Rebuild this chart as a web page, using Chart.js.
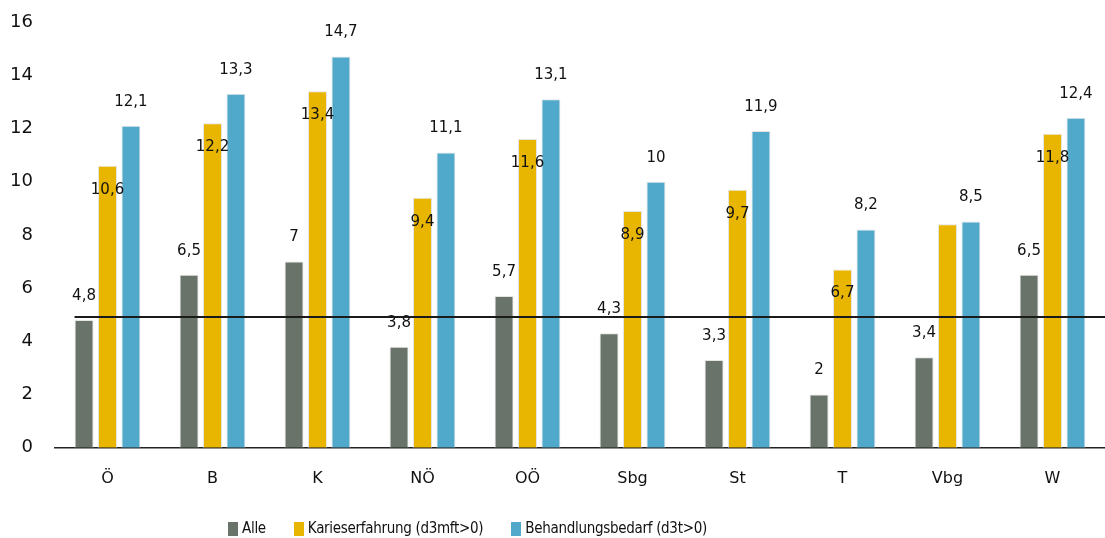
<!DOCTYPE html>
<html>
<head>
<meta charset="utf-8">
<script src="https://cdn.jsdelivr.net/npm/chart.js@4.4.1/dist/chart.umd.min.js"></script>
<style>
  html, body { margin: 0; padding: 0; background: #fff; }
  #wrap { position: relative; width: 1105px; height: 538px; }
  #legend {
    position: absolute; left: 228px; top: 519px;
    display: flex; align-items: flex-end;
    font-family: "DejaVu Sans Condensed", "DejaVu Sans", sans-serif;
    font-size: 15px; letter-spacing: -0.3px; color: #111;
  }
  .item { display: flex; align-items: flex-end; margin-right: 28px; }
  .box { width: 10px; height: 14px; margin-right: 4px; margin-bottom: 1px; }
</style>
</head>
<body>
<div id="wrap">
  <canvas id="c" width="1105" height="538"></canvas>
  <div id="legend"></div>
</div>
<script>
// Bundesländer (Kariesstatistik), values
const categories = ['Ö', 'B', 'K', 'NÖ', 'OÖ', 'Sbg', 'St', 'T', 'Vbg', 'W'];
const alle = [4.8, 6.5, 7, 3.8, 5.7, 4.3, 3.3, 2, 3.4, 6.5];
const karies = [10.6, 12.2, 13.4, 9.4, 11.6, 8.9, 9.7, 6.7, 8.4, 11.8];
const behandlung = [12.1, 13.3, 14.7, 11.1, 13.1, 10, 11.9, 8.2, 8.5, 12.4];
// the Vbg yellow bar carries no label in the original
const kariesLabels = ['10,6', '12,2', '13,4', '9,4', '11,6', '8,9', '9,7', '6,7', null, '11,8'];
const yTicks = [0, 2, 4, 6, 8, 10, 12, 14, 16];
const referenceValue = 4.9;

const GREY = '#69736a';
const YELLOW = '#e8b500';
const BLUE = '#50a9cb';

const seriesNames = ['Alle', 'Karieserfahrung (d3mft>0)', 'Behandlungsbedarf (d3t>0)'];
const seriesColors = [GREY, YELLOW, BLUE];

function fmt(v) { return String(v).replace('.', ','); }

// value labels: grey + blue above the bar, yellow inside just below the top
const labelPlugin = {
    id: 'valueLabels',
    afterDatasetsDraw(chart) {
        const ctx = chart.ctx;
        ctx.save();
        ctx.font = '15px "DejaVu Sans", sans-serif';
        ctx.fillStyle = '#111';
        ctx.textAlign = 'center';
        ctx.textBaseline = 'middle';
        chart.data.datasets.forEach((ds, di) => {
            const meta = chart.getDatasetMeta(di);
            meta.data.forEach((bar, i) => {
                let txt, y;
                if (di === 1) {
                    txt = kariesLabels[i];
                    y = bar.y + 24;
                } else {
                    txt = fmt(ds.data[i]);
                    y = bar.y - 24;
                }
                if (txt) ctx.fillText(txt, bar.x, y);
            });
        });
        ctx.restore();
    }
};

// horizontal reference line across the plot
const refLinePlugin = {
    id: 'refLine',
    afterDatasetsDraw(chart) {
        const ctx = chart.ctx;
        const y = Math.round(chart.scales.y.getPixelForValue(referenceValue));
        const firstBar = chart.getDatasetMeta(0).data[0];
        const x0 = firstBar.x - firstBar.width / 2;
        ctx.save();
        ctx.strokeStyle = '#1a1a1a';
        ctx.lineWidth = 2;
        ctx.beginPath();
        ctx.moveTo(x0, y);
        ctx.lineTo(chart.chartArea.right, y);
        ctx.stroke();
        ctx.restore();
    }
};

const datasets = [alle, karies, behandlung].map((d, i) => ({
    label: seriesNames[i],
    data: d,
    backgroundColor: seriesColors[i],
    borderColor: 'rgba(225, 225, 225, 0.9)',
    borderWidth: 1,
    categoryPercentage: 0.67,
    barPercentage: 0.81
}));

new Chart(document.getElementById('c'), {
    type: 'bar',
    data: { labels: categories, datasets: datasets },
    plugins: [labelPlugin, refLinePlugin],
    options: {
        responsive: false,
        animation: false,
        layout: { padding: { top: 22, right: 0, bottom: 29, left: 0 } },
        plugins: {
            legend: { display: false },
            tooltip: { enabled: false }
        },
        scales: {
            x: {
                grid: { display: false, drawTicks: false },
                border: { display: true, color: '#222', width: 1.5 },
                ticks: {
                    color: '#111',
                    padding: 21,
                    font: { family: '"DejaVu Sans", sans-serif', size: 16 }
                }
            },
            y: {
                min: 0,
                max: 16,
                afterBuildTicks(scale) { scale.ticks = yTicks.map(v => ({ value: v })); },
                afterFit(scale) {
                    scale.width = 55;
                    scale.paddingTop = 0;
                },
                grid: { display: false, drawTicks: false },
                border: { display: false },
                ticks: {
                    color: '#111',
                    padding: 22,
                    font: { family: '"DejaVu Sans", sans-serif', size: 18 }
                }
            }
        }
    }
});

// legend below the plot
const legend = document.getElementById('legend');
seriesNames.forEach((name, i) => {
    const item = document.createElement('div');
    item.className = 'item';
    const box = document.createElement('span');
    box.className = 'box';
    box.style.background = seriesColors[i];
    const txt = document.createElement('span');
    txt.textContent = name;
    item.appendChild(box);
    item.appendChild(txt);
    legend.appendChild(item);
});
</script>
</body>
</html>
